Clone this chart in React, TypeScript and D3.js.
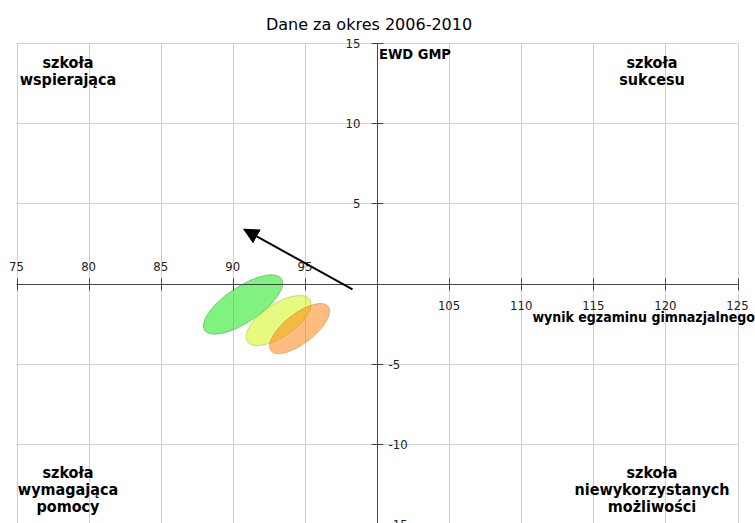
import React, { useEffect, useRef } from 'react'
import { select, scaleLinear, range, line, curveLinearClosed } from 'd3'

// axis ticks
const xTicks = [75, 80, 85, 90, 95, 100, 105, 110, 115, 120, 125]
const yTicks = [15, 10, 5, 0, -5, -10, -15]

// ellipses: centre, half widths (data units), correlation
const ellNames = ['zielona', 'zolta', 'pomaranczowa']
const ellCx = [90.71, 93.17, 94.63]
const ellCy = [-1.31, -2.31, -2.81]
const ellSx = [2.75, 2.25, 2.08]
const ellSy = [1.85, 1.56, 1.56]
const ellRho = [0.72, 0.65, 0.7]
const ellFill = ['#00e600', '#ccf500', '#ff7a00']
const ellStroke = ['#30a030', '#a8b830', '#c87a30']

// trend arrow
const arrowFrom = [98.3, -0.37]
const arrowTo = [90.8, 3.37]

const title = 'Dane za okres 2006-2010'
const xTitle = 'wynik egzaminu gimnazjalnego'
const yTitle = 'EWD GMP'
const corners = [
	{ lines: ['szkoła', 'wspierająca'], x: 68, y: 68 },
	{ lines: ['szkoła', 'sukcesu'], x: 652, y: 68 },
	{ lines: ['szkoła', 'wymagająca', 'pomocy'], x: 68, y: 478 },
	{ lines: ['szkoła', 'niewykorzystanych', 'możliwości'], x: 652, y: 478 },
]

export default function App() {
	const svgRef = useRef<SVGSVGElement>(null)
	const w = 755
	const h = 523

	useEffect(() => {
		const svg = select(svgRef.current)
		svg.selectAll('*').remove()

		const x = scaleLinear().domain([75, 125]).range([16.5, 737.5])
		const y = scaleLinear().domain([-15, 15]).range([524, 43])

		// grid
		const grid = svg.append('g').attr('stroke', '#d0d0d0').attr('stroke-width', 1)
		grid.selectAll('.gx').data(xTicks).join('line')
			.attr('x1', d => Math.round(x(d)) + 0.5).attr('x2', d => Math.round(x(d)) + 0.5)
			.attr('y1', y(15)).attr('y2', y(-15))
		grid.selectAll('.gy').data(yTicks).join('line')
			.attr('y1', d => Math.round(y(d)) + 0.5).attr('y2', d => Math.round(y(d)) + 0.5)
			.attr('x1', x(75)).attr('x2', x(125))

		// ellipses
		const pts = (i: number) => range(0, 72).map(k => {
			const t = (k / 72) * Math.PI * 2
			const dx = ellSx[i] * Math.cos(t)
			const dy = ellSy[i] * (ellRho[i] * Math.cos(t) + Math.sqrt(1 - ellRho[i] ** 2) * Math.sin(t))
			return [x(ellCx[i] + dx), y(ellCy[i] + dy)] as [number, number]
		})
		const ell = line().curve(curveLinearClosed)
		svg.append('g').selectAll('path').data(ellNames).join('path')
			.attr('d', (d, i) => ell(pts(i)))
			.attr('fill', (d, i) => ellFill[i])
			.attr('fill-opacity', 0.5)
			.attr('stroke', (d, i) => ellStroke[i])
			.attr('stroke-opacity', 0.5)
			.attr('stroke-width', 1)

		// axes
		const x0 = Math.round(x(100)) + 0.5
		const y0 = Math.round(y(0)) + 0.5
		const ax = svg.append('g').attr('stroke', '#444').attr('stroke-width', 1)
		ax.append('line').attr('x1', x(75)).attr('x2', x(125)).attr('y1', y0).attr('y2', y0)
		ax.append('line').attr('x1', x0).attr('x2', x0).attr('y1', y(15)).attr('y2', y(-15))
		ax.selectAll('.tx').data(xTicks.filter(d => d !== 100)).join('line')
			.attr('x1', d => Math.round(x(d)) + 0.5).attr('x2', d => Math.round(x(d)) + 0.5)
			.attr('y1', y0 - 6).attr('y2', y0 + 6)
		ax.selectAll('.ty').data(yTicks.filter(d => d !== 0)).join('line')
			.attr('y1', d => Math.round(y(d)) + 0.5).attr('y2', d => Math.round(y(d)) + 0.5)
			.attr('x1', x0 - 6).attr('x2', x0 + 6)

		const tf = 'DejaVu Sans Condensed, DejaVu Sans, sans-serif'
		svg.append('g').selectAll('text').data(xTicks.filter(d => d !== 100)).join('text')
			.attr('x', d => x(d))
			.attr('y', d => d < 100 ? y0 - 14 : y0 + 25.5)
			.attr('text-anchor', 'middle')
			.attr('font-family', tf).attr('font-size', 13).attr('fill', '#222')
			.text(d => d)
		svg.append('g').selectAll('text').data(yTicks.filter(d => d !== 0)).join('text')
			.attr('x', d => d > 0 ? x0 - 17 : x0 + 11)
			.attr('y', d => y(d) + 5)
			.attr('text-anchor', d => d > 0 ? 'end' : 'start')
			.attr('font-family', tf).attr('font-size', 13).attr('fill', '#222')
			.text(d => d)

		// axis titles
		svg.append('text').attr('x', x0 + 1.5).attr('y', 59)
			.attr('font-family', tf).attr('font-weight', 'bold').attr('font-size', 14.5)
			.text(yTitle)
		svg.append('text').attr('x', 755).attr('y', 322).attr('text-anchor', 'end')
			.attr('font-family', tf).attr('font-weight', 'bold').attr('font-size', 14)
			.text(xTitle)

		// title
		svg.append('text').attr('x', 369).attr('y', 30).attr('text-anchor', 'middle')
			.attr('font-family', 'DejaVu Sans, sans-serif').attr('font-size', 16)
			.text(title)

		// arrow
		const defs = svg.append('defs')
		defs.append('marker').attr('id', 'head').attr('viewBox', '0 0 10 10')
			.attr('refX', 9).attr('refY', 5).attr('markerWidth', 8).attr('markerHeight', 8)
			.attr('orient', 'auto').attr('markerUnits', 'strokeWidth')
			.append('path').attr('d', 'M0,0 L10,5 L0,10 z').attr('fill', '#000')
		svg.append('line')
			.attr('x1', x(arrowFrom[0])).attr('y1', y(arrowFrom[1]))
			.attr('x2', x(arrowTo[0])).attr('y2', y(arrowTo[1]))
			.attr('stroke', '#000').attr('stroke-width', 2)
			.attr('marker-end', 'url(#head)')

		// quadrant labels
		corners.forEach(c => {
			const t = svg.append('text').attr('text-anchor', 'middle')
				.attr('font-family', tf).attr('font-weight', 'bold').attr('font-size', 16)
			c.lines.forEach((l, i) => {
				t.append('tspan').attr('x', c.x).attr('y', c.y + i * 17)
					.text(l)
			})
		})
	}, [])

	return (
		<svg ref={svgRef} width={w} height={h}
			style={{ position: 'absolute', left: 0, top: 0, background: '#fff' }} />
	)
}
